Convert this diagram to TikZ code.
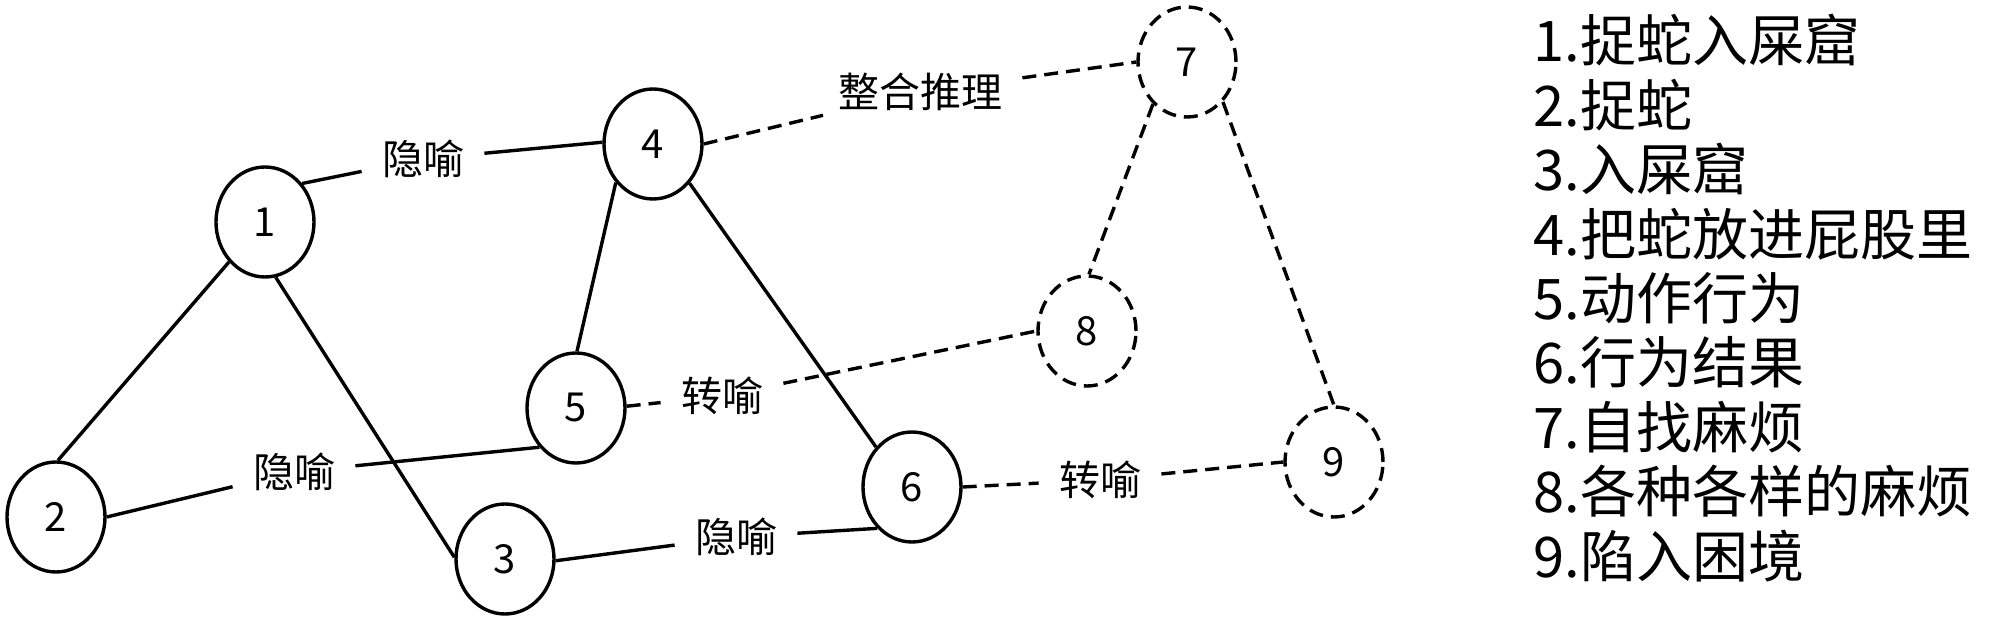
\documentclass[tikz,border=0pt]{standalone}
\usepackage{fontspec}
\setmainfont{Noto Sans CJK SC}
\usetikzlibrary{shapes.geometric}
\begin{document}
\begin{tikzpicture}[x=0.5pt,y=-0.5pt,
  nd/.style={ellipse, draw, line width=1.7pt, minimum width=49pt, minimum height=55pt, inner sep=0pt, font=\fontsize{20}{20}\selectfont},
  dashpat/.style={dash pattern=on 7pt off 4pt},
  dnd/.style={nd, dashpat},
  lbl/.style={font=\fontsize{20.5}{20}\selectfont, inner xsep=10pt, inner ysep=2pt},
  edge/.style={line width=1.7pt},
  dedge/.style={line width=1.7pt, dashpat},
  leg/.style={anchor=base west, inner sep=0pt, font=\fontsize{28}{30}\selectfont}]
\useasboundingbox (0,0) rectangle (1999,624);
% nodes
\node[nd] (n1) at (265,222) {1};
\node[nd] (n2) at (56,517) {2};
\node[nd] (n3) at (505,559) {3};
\node[nd] (n4) at (653,144) {4};
\node[nd] (n5) at (576,408) {5};
\node[nd] (n6) at (912,487) {6};
\node[dnd] (n7) at (1187,62) {7};
\node[dnd] (n8) at (1087,331) {8};
\node[dnd] (n9) at (1334,462) {9};
% labels
\node[lbl] (l14) at (423,159) {隐喻};
\node[lbl] (l25) at (294,472) {隐喻};
\node[lbl] (l36) at (736,537) {隐喻};
\node[lbl] (l47) at (920,92) {整合推理};
\node[lbl] (l58) at (722,396) {转喻};
\node[lbl] (l69) at (1100,480) {转喻};
% solid edges
\draw[edge] (n1.228) -- (n2.88);
\draw[edge] (n1.281) -- (n3.178);
\draw[edge] (n4.226) -- (n5.89);
\draw[edge] (n4.313) -- (n6.132);
\draw[edge] (n1.46) -- (l14);
\draw[edge] (l14) -- (n4.178);
\draw[edge] (n2.0) -- (l25);
\draw[edge] (l25) -- (n5.227);
\draw[edge] (n3.-2) -- (l36);
\draw[edge] (l36) -- (n6.230);
% dashed edges
\draw[dedge] (n4.0) -- (l47);
\draw[dedge] (l47) -- (n7.180);
\draw[dedge] (n5.2) -- (l58);
\draw[dedge] (l58) -- (n8.180);
\draw[dedge] (n6.0) -- (l69);
\draw[dedge] (l69) -- (n9.180);
\draw[dedge] (n7.231) -- (n8.88);
\draw[dedge] (n7.312) -- (n9.90);
% legend
\node[leg] (g1) at (1533,62) {1.捉蛇入屎窟};
\node[leg] (g2) at (1533,126.4) {2.捉蛇};
\node[leg] (g3) at (1533,190.8) {3.入屎窟};
\node[leg] (g4) at (1533,255.2) {4.把蛇放进屁股里};
\node[leg] (g5) at (1533,319.6) {5.动作行为};
\node[leg] (g6) at (1533,384) {6.行为结果};
\node[leg] (g7) at (1533,448.4) {7.自找麻烦};
\node[leg] (g8) at (1533,512.8) {8.各种各样的麻烦};
\node[leg] (g9) at (1533,577.2) {9.陷入困境};
\end{tikzpicture}
\end{document}
